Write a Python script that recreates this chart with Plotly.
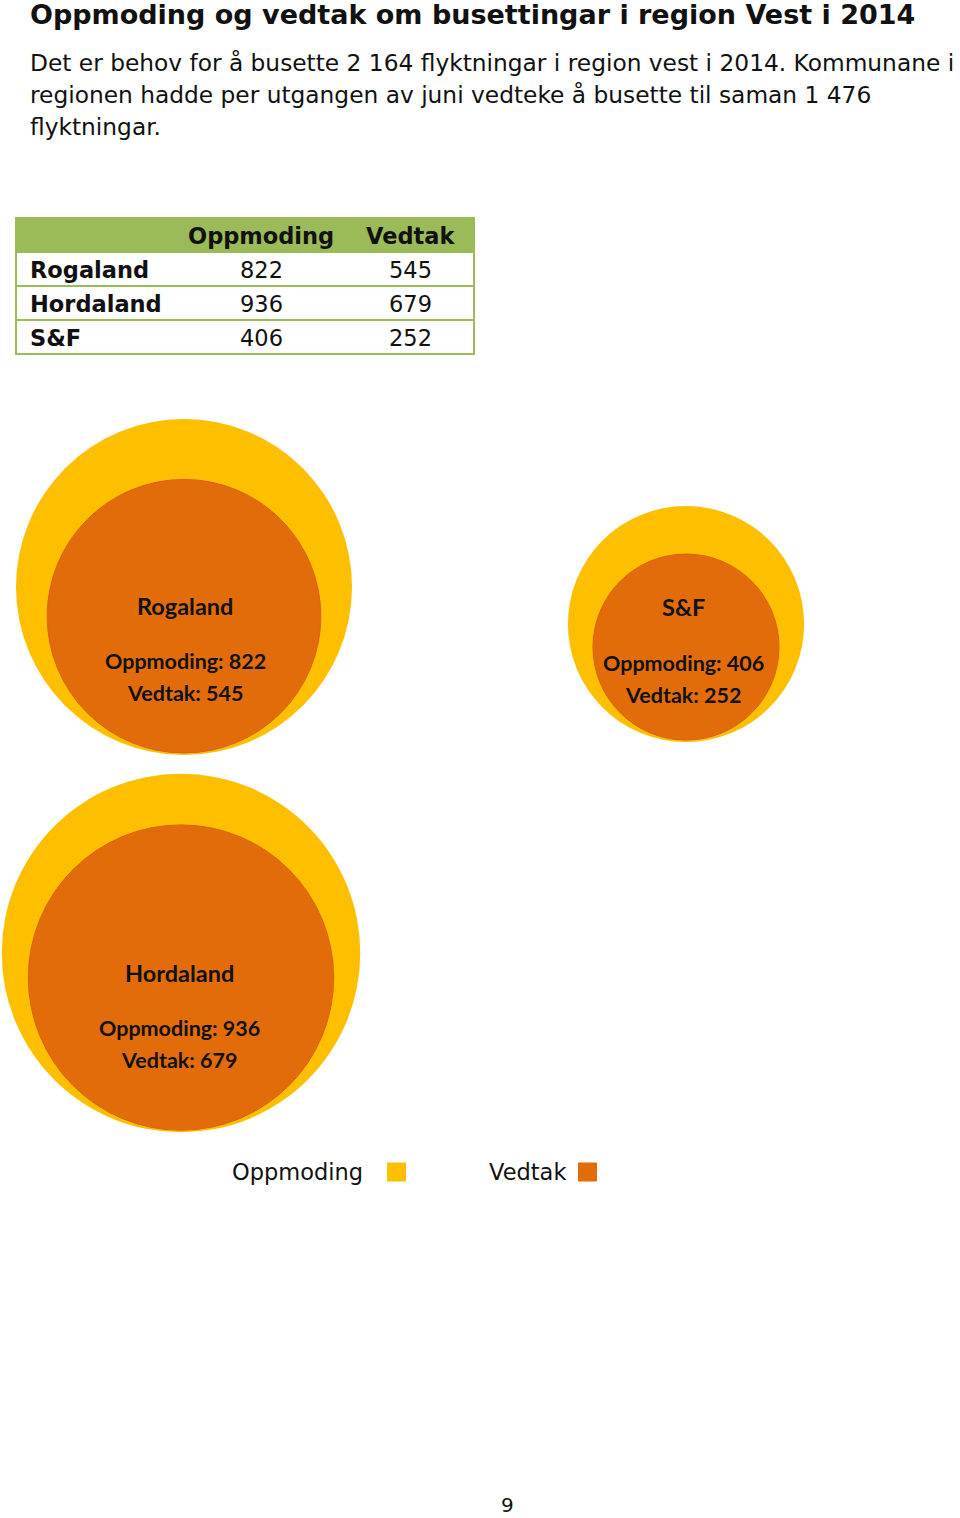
import math
import plotly.graph_objects as go

# ---------------- data ----------------
regions = ["Rogaland", "Hordaland", "S&F"]
oppmoding = [822, 936, 406]
vedtak = [545, 679, 252]
series_names = ["Oppmoding", "Vedtak"]

title_text = "Oppmoding og vedtak om busettingar i region Vest i 2014"
para_lines = [
    "Det er behov for å busette 2 164 flyktningar i region vest i 2014. Kommunane i",
    "regionen hadde per utgangen av juni vedteke å busette til saman 1 476",
    "flyktningar.",
]
page_number = "9"

# ---------------- style / layout ----------------
W, H = 960, 1518
YELLOW = "#FDBF00"
ORANGE = "#E36C0A"
GREEN = "#9BBB59"
TXT = "#111111"
SCALE = 5.86          # px radius per sqrt(value) -> circle area proportional to value
outer_centers_x = [184, 181, 686]
outer_centers_y = [587, 953, 624]
label_x = [185, 179, 683]
label_y = [[606, 661, 693], [973, 1028, 1060], [607, 663, 695]]

R_out = [SCALE * math.sqrt(v) for v in oppmoding]
R_in = [SCALE * math.sqrt(v) for v in vedtak]
inner_centers_y = [cy + ro - ri - 2 for cy, ro, ri in zip(outer_centers_y, R_out, R_in)]

fig = go.Figure()

# circles (marker size = diameter in px; axes are 1 unit = 1 px)
fig.add_trace(go.Scatter(
    x=outer_centers_x, y=outer_centers_y, mode="markers",
    marker=dict(size=[2 * r for r in R_out], color=YELLOW, opacity=1, line=dict(width=0)),
    name=series_names[0], showlegend=False, hoverinfo="skip"))
fig.add_trace(go.Scatter(
    x=outer_centers_x, y=inner_centers_y, mode="markers",
    marker=dict(size=[2 * r for r in R_in], color=ORANGE, opacity=1, line=dict(width=1, color="#D9640A")),
    name=series_names[1], showlegend=False, hoverinfo="skip"))

# legend swatches
fig.add_trace(go.Scatter(
    x=[396.5, 587.5], y=[1172, 1172], mode="markers",
    marker=dict(symbol="square", size=19, color=[YELLOW, ORANGE], opacity=1, line=dict(width=0)),
    showlegend=False, hoverinfo="skip"))

# ---------------- table (shapes + text) ----------------
tbl_top, row_h = 218, 34
tbl_x0, tbl_x1 = 16, 474
col_label_x = 28
col_centers = [261, 410]

shapes = [
    dict(type="rect", xref="x", yref="y", x0=tbl_x0, x1=tbl_x1, y0=tbl_top, y1=tbl_top + row_h,
         fillcolor=GREEN, line=dict(width=0), layer="below"),
    dict(type="rect", xref="x", yref="y", x0=tbl_x0, x1=tbl_x1, y0=tbl_top, y1=tbl_top + row_h * (len(regions) + 1),
         line=dict(color=GREEN, width=2), layer="above"),
]
for k in range(1, len(regions) + 1):
    yy = tbl_top + row_h * k
    shapes.append(dict(type="line", xref="x", yref="y", x0=tbl_x0, x1=tbl_x1, y0=yy, y1=yy,
                       line=dict(color=GREEN, width=2), layer="above"))

ann = []
tfont = dict(family="DejaVu Sans", size=22.5, color=TXT)
for name, cx in zip(series_names, col_centers):
    ann.append(dict(x=cx, y=tbl_top + row_h * 0.5 + 1, text="<b>" + name + "</b>", showarrow=False,
                    xanchor="center", yanchor="middle", font=tfont))
for i, reg in enumerate(regions):
    yy = tbl_top + row_h * (i + 1.5) + 1
    ann.append(dict(x=col_label_x, y=yy, text="<b>" + reg + "</b>", showarrow=False,
                    xanchor="left", yanchor="middle", font=tfont))
    for val, cx in zip([oppmoding[i], vedtak[i]], col_centers):
        ann.append(dict(x=cx, y=yy, text=str(val), showarrow=False,
                        xanchor="center", yanchor="middle", font=tfont))

# ---------------- texts ----------------
ann.append(dict(x=28, y=14, text="<b>" + title_text + "</b>", showarrow=False,
                xanchor="left", yanchor="middle",
                font=dict(family="DejaVu Sans", size=27, color=TXT)))
for i, line in enumerate(para_lines):
    ann.append(dict(x=28, y=62 + 32 * i, text=line, showarrow=False,
                    xanchor="left", yanchor="middle",
                    font=dict(family="DejaVu Sans", size=23.3, color=TXT)))

for i, reg in enumerate(regions):
    texts = [reg, f"{series_names[0]}: {oppmoding[i]}", f"{series_names[1]}: {vedtak[i]}"]
    sizes = [23.5, 21.5, 21.5]
    for t, yy, sz in zip(texts, label_y[i], sizes):
        ann.append(dict(x=label_x[i], y=yy, text="<b>" + t + "</b>", showarrow=False,
                        xanchor="center", yanchor="middle",
                        font=dict(family="Lato", size=sz, color=TXT)))

ann.append(dict(x=365, y=1172, text=series_names[0], showarrow=False, xanchor="right", yanchor="middle",
                font=dict(family="DejaVu Sans", size=22.5, color=TXT)))
ann.append(dict(x=568, y=1172, text=series_names[1], showarrow=False, xanchor="right", yanchor="middle",
                font=dict(family="DejaVu Sans", size=22.5, color=TXT)))
ann.append(dict(x=507, y=1505, text=page_number, showarrow=False, xanchor="center", yanchor="middle",
                font=dict(family="DejaVu Sans", size=20, color=TXT)))

fig.update_layout(
    width=W, height=H, margin=dict(l=0, r=0, t=0, b=0),
    paper_bgcolor="white", plot_bgcolor="white",
    xaxis=dict(range=[0, W], visible=False, fixedrange=True),
    yaxis=dict(range=[H, 0], visible=False, fixedrange=True),
    shapes=shapes, annotations=ann, showlegend=False,
)

fig.write_html("out.html", post_script="document.body.style.margin='0px';",
               config={"displayModeBar": False})
